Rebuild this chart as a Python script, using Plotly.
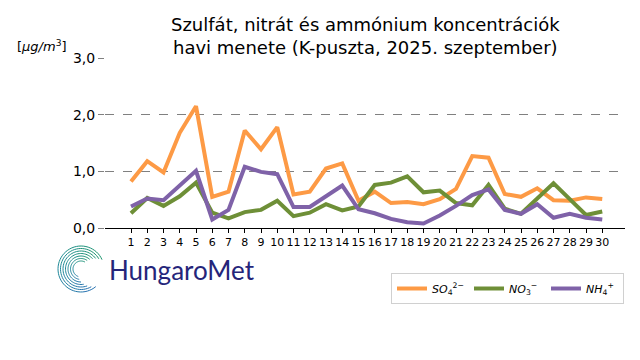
import math
import plotly.graph_objects as go

days = list(range(1, 31))
so4 = [0.82, 1.18, 0.98, 1.68, 2.15, 0.55, 0.64, 1.72, 1.39, 1.78,
       0.59, 0.64, 1.05, 1.14, 0.48, 0.64, 0.44, 0.46, 0.42, 0.51,
       0.69, 1.27, 1.24, 0.60, 0.55, 0.70, 0.49, 0.48, 0.54, 0.51]
no3 = [0.26, 0.53, 0.39, 0.56, 0.80, 0.27, 0.17, 0.28, 0.32, 0.48,
       0.21, 0.27, 0.42, 0.31, 0.38, 0.76, 0.80, 0.91, 0.63, 0.66,
       0.44, 0.40, 0.76, 0.34, 0.25, 0.52, 0.79, 0.51, 0.23, 0.29]
nh4 = [0.38, 0.52, 0.49, 0.76, 1.01, 0.15, 0.32, 1.08, 0.99, 0.95,
       0.37, 0.37, 0.56, 0.75, 0.33, 0.26, 0.16, 0.10, 0.08, 0.22,
       0.39, 0.58, 0.68, 0.32, 0.25, 0.42, 0.18, 0.25, 0.18, 0.15]
y_ticks = [0, 1, 2, 3]
series_names = ["<i>SO</i><sub>4</sub><sup>2−</sup>", "<i>NO</i><sub>3</sub><sup>−</sup>", "<i>NH</i><sub>4</sub><sup>+</sup>"]
colors = ["#fd9a45", "#6e8f37", "#7f62a8"]

# page body margin (8 px) offsets the figure; keep the page inside the window
OFF = 8
W, H = 640 - 2 * OFF, 360 - 2 * OFF
# desired window-pixel plot box: x 105..625, y 58..228
L, T = 105 - OFF, 58 - OFF
R = (640 - OFF) - 625
B = (360 - OFF) - 228
pw, ph = W - L - R, H - T - B

def px(x):
    return (x - 105) / pw

def py(y):
    return (228 - y) / ph

fig = go.Figure()
for name, vals, c in zip(series_names, [so4, no3, nh4], colors):
    fig.add_trace(go.Scatter(x=days, y=vals, mode="lines", name=name,
                             line=dict(color=c, width=4)))

# logo spiral (approximation)
shapes = []
cx, cy = 81, 269
radii = [8, 10.5, 13, 15.5, 18, 20.5, 23]
def lerp(a, b, t):
    return int(a + (b - a) * t)
def col(t):
    g = (25, 150, 95)
    m = (30, 140, 150)
    bl = (40, 105, 185)
    if t < 0.5:
        a, b, tt = g, m, t / 0.5
    else:
        a, b, tt = m, bl, (t - 0.5) / 0.5
    return "rgb(%d,%d,%d)" % (lerp(a[0], b[0], tt), lerp(a[1], b[1], tt), lerp(a[2], b[2], tt))
for i, r in enumerate(radii):
    a0 = 60 - i * 6
    a1 = 250 + i * 10
    nseg = 8
    for s in range(nseg):
        sa = a0 + (a1 - a0) * s / nseg
        ea = a0 + (a1 - a0) * (s + 1) / nseg
        pts = []
        for k in range(7):
            a = math.radians(sa + (ea - sa) * k / 6)
            x = cx + r * math.cos(a)
            y = cy - r * math.sin(a)
            pts.append((px(x), py(y)))
        path = "M %f,%f " % pts[0] + " ".join("L %f,%f" % p for p in pts[1:])
        t = ((sa + ea) / 2 - 0) / 330
        shapes.append(dict(type="path", xref="paper", yref="paper", path=path,
                           line=dict(color=col(min(max(t, 0), 1)), width=1.0), layer="above"))

fig.update_layout(
    width=W, height=H,
    margin=dict(l=L, r=R, t=T, b=B, autoexpand=False),
    paper_bgcolor="white", plot_bgcolor="white",
    font=dict(family="DejaVu Sans", color="black"),
    separators=",.",
    showlegend=True,
    xaxis=dict(range=[-0.6, 31.4], tickmode="array", tickvals=days, ticktext=[str(d) for d in days],
               tickangle=0, showgrid=False, showline=True, linecolor="black", linewidth=1.2,
               ticks="outside", ticklen=4, tickcolor="black", tickfont=dict(size=11),
               zeroline=False, automargin=False),
    yaxis=dict(range=[0, 3], tickmode="array", tickvals=y_ticks, tickformat=".1f",
               showgrid=True, gridcolor="#808080", griddash="dash", gridwidth=1,
               ticks="outside", ticklen=6, tickcolor="#808080", tickfont=dict(size=14),
               showline=False, zeroline=False, automargin=False),
    legend=dict(orientation="h", x=px(391), y=py(273), xanchor="left", yanchor="top",
                bordercolor="#d0d0d0", borderwidth=1, font=dict(size=11),
                itemwidth=30, entrywidth=32, entrywidthmode="pixels", tracegroupgap=0),
    shapes=shapes,
    annotations=[
        dict(text="Szulfát, nitrát és ammónium koncentrációk<br>havi menete (K-puszta, 2025. szeptember)",
             x=px(365), y=py(12), xref="paper", yref="paper", showarrow=False,
             xanchor="center", yanchor="top", font=dict(size=18)),
        dict(text="[<i>μg/m</i><sup>3</sup>]", x=px(42), y=py(46), xref="paper", yref="paper",
             showarrow=False, font=dict(size=13), xanchor="center", yanchor="middle"),
        dict(text="HungaroMet", x=px(107), y=py(270), xref="paper", yref="paper",
             showarrow=False, font=dict(size=26, color="#25257a", family="Lato"),
             xanchor="left", yanchor="middle"),
    ],
)

fig.write_html("out.html")
